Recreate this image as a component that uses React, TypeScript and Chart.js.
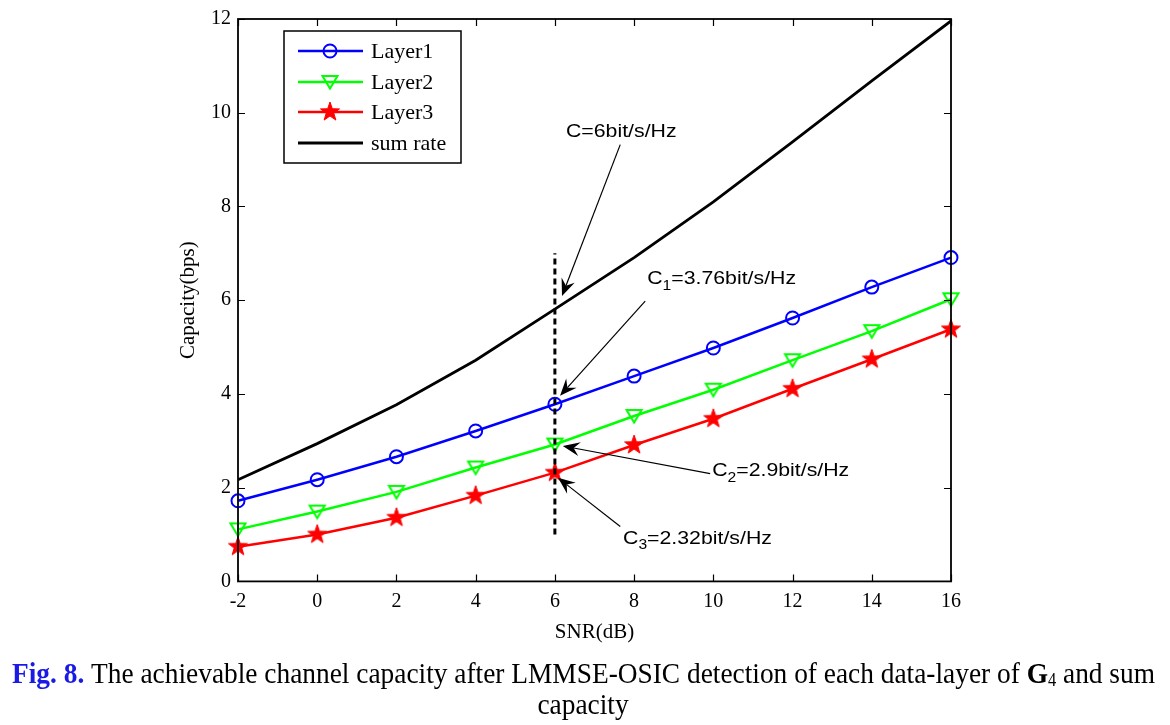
import React, { useEffect, useRef } from "react";
import { Chart, registerables } from "chart.js";

Chart.register(...registerables);

// ---------- data ----------
const snrDb = [-2, 0, 2, 4, 6, 8, 10, 12, 14, 16];
const layer1 = [1.72, 2.17, 2.66, 3.21, 3.78, 4.38, 4.98, 5.62, 6.28, 6.91];
const layer2 = [1.11, 1.49, 1.91, 2.43, 2.92, 3.53, 4.09, 4.72, 5.34, 6.02];
const layer3 = [0.74, 1.0, 1.36, 1.83, 2.32, 2.91, 3.47, 4.11, 4.74, 5.38];
const sumRate = [2.17, 2.94, 3.77, 4.72, 5.81, 6.91, 8.1, 9.38, 10.68, 11.96];
const guideX = [6, 6];
const guideY = [1, 7];
const legendLabels = ["Layer1", "Layer2", "Layer3", "sum rate"];
const xTickValues = [-2, 0, 2, 4, 6, 8, 10, 12, 14, 16];
const yTickValues = [0, 2, 4, 6, 8, 10, 12];

// annotations (text + arrow, in data coordinates)
const annoMain = ["C", "C", "C", "C"];
const annoSub = ["", "1", "2", "3"];
const annoRest = ["=6bit/s/Hz", "=3.76bit/s/Hz", "=2.9bit/s/Hz", "=2.32bit/s/Hz"];
const annoTextX = [6.28, 8.33, 9.97, 7.72];
const annoTextY = [9.6, 6.45, 2.36, 0.915];
const arrowFromX = [7.65, 8.28, 9.92, 7.65];
const arrowFromY = [9.32, 5.98, 2.3, 1.17];
const arrowToX = [6.18, 6.13, 6.2, 6.08];
const arrowToY = [6.09, 3.96, 2.89, 2.21];

const captionBold = "Fig. 8.";
const captionMain = " The achievable channel capacity after LMMSE-OSIC detection of each data-layer of ";
const captionG = "G";
const captionSub = "4";
const captionEnd = " and sum";
const captionLine2 = "capacity";

const SERIF = "'Liberation Serif', 'Times New Roman', serif";
const SANS = "'Liberation Sans', Arial, sans-serif";
const BLUE = "#0000ff";
const GREEN = "#00ff00";
const RED = "#ff0000";

function makeStar(color: string, outer: number, inner: number) {
  const s = Math.ceil(outer * 2 + 4);
  const c = document.createElement("canvas");
  c.width = s;
  c.height = s;
  const g = c.getContext("2d")!;
  g.translate(s / 2, s / 2);
  g.beginPath();
  for (let i = 0; i < 10; i++) {
    const r = i % 2 === 0 ? outer : inner;
    const a = -Math.PI / 2 + (i * Math.PI) / 5;
    g.lineTo(r * Math.cos(a), r * Math.sin(a));
  }
  g.closePath();
  g.fillStyle = color;
  g.fill();
  g.strokeStyle = color;
  g.lineWidth = 1;
  g.stroke();
  return c;
}

function makeTriDown(color: string) {
  const s = 20;
  const c = document.createElement("canvas");
  c.width = s;
  c.height = s;
  const g = c.getContext("2d")!;
  g.beginPath();
  g.moveTo(2.5, 4);
  g.lineTo(17.5, 4);
  g.lineTo(10, 16.5);
  g.closePath();
  g.strokeStyle = color;
  g.lineWidth = 2;
  g.lineJoin = "miter";
  g.stroke();
  return c;
}

function pts(xs: number[], ys: number[]) {
  return xs.map((x, i) => ({ x, y: ys[i] }));
}

export default function App() {
  const ref = useRef<HTMLCanvasElement | null>(null);

  useEffect(() => {
    const canvas = ref.current;
    if (!canvas) return;
    const star = makeStar(RED, 10, 4);
    const tri = makeTriDown(GREEN);

    const overlay = {
      id: "overlay",
      afterDatasetsDraw(chart: any) {
        const ctx = chart.ctx as CanvasRenderingContext2D;
        const { left, right, top, bottom } = chart.chartArea;
        const xs = chart.scales.x;
        const ys = chart.scales.y;
        ctx.save();
        // box
        ctx.strokeStyle = "#000";
        ctx.lineWidth = 1.8;
        ctx.strokeRect(left, top, right - left, bottom - top);
        // inward ticks
        ctx.lineWidth = 1.2;
        const tl = 7;
        ctx.beginPath();
        xTickValues.forEach((v) => {
          const px = Math.round(xs.getPixelForValue(v)) + 0.5;
          ctx.moveTo(px, bottom);
          ctx.lineTo(px, bottom - tl);
          ctx.moveTo(px, top);
          ctx.lineTo(px, top + tl);
        });
        yTickValues.forEach((v) => {
          const py = Math.round(ys.getPixelForValue(v)) + 0.5;
          ctx.moveTo(left, py);
          ctx.lineTo(left + tl, py);
          ctx.moveTo(right, py);
          ctx.lineTo(right - tl, py);
        });
        ctx.stroke();

        // annotations
        for (let i = 0; i < annoMain.length; i++) {
          const x0 = xs.getPixelForValue(arrowFromX[i]);
          const y0 = ys.getPixelForValue(arrowFromY[i]);
          const x1 = xs.getPixelForValue(arrowToX[i]);
          const y1 = ys.getPixelForValue(arrowToY[i]);
          const ang = Math.atan2(y1 - y0, x1 - x0);
          const L = 17;
          const W = 7;
          const back = 11;
          ctx.strokeStyle = "#000";
          ctx.lineWidth = 1.2;
          ctx.beginPath();
          ctx.moveTo(x0, y0);
          ctx.lineTo(x1 - Math.cos(ang) * back, y1 - Math.sin(ang) * back);
          ctx.stroke();
          const bx = x1 - Math.cos(ang) * L;
          const by = y1 - Math.sin(ang) * L;
          const nx = -Math.sin(ang);
          const ny = Math.cos(ang);
          ctx.fillStyle = "#000";
          ctx.beginPath();
          ctx.moveTo(x1, y1);
          ctx.lineTo(bx + nx * W, by + ny * W);
          ctx.lineTo(x1 - Math.cos(ang) * back, y1 - Math.sin(ang) * back);
          ctx.lineTo(bx - nx * W, by - ny * W);
          ctx.closePath();
          ctx.fill();

          // text (slightly wide, like the reference)
          const tx = xs.getPixelForValue(annoTextX[i]);
          const ty = ys.getPixelForValue(annoTextY[i]);
          ctx.save();
          ctx.translate(tx, ty);
          ctx.scale(1.12, 1);
          ctx.textBaseline = "middle";
          ctx.textAlign = "left";
          ctx.fillStyle = "#000";
          ctx.font = `19px ${SANS}`;
          let cx = 0;
          ctx.fillText(annoMain[i], cx, 0);
          cx += ctx.measureText(annoMain[i]).width;
          if (annoSub[i]) {
            ctx.font = `14px ${SANS}`;
            ctx.fillText(annoSub[i], cx, 7);
            cx += ctx.measureText(annoSub[i]).width;
            ctx.font = `19px ${SANS}`;
          }
          ctx.fillText(annoRest[i], cx, 0);
          ctx.restore();
        }

        // legend
        const lx0 = 284, ly0 = 31, lx1 = 461, ly1 = 163;
        ctx.fillStyle = "#fff";
        ctx.fillRect(lx0, ly0, lx1 - lx0, ly1 - ly0);
        ctx.strokeStyle = "#000";
        ctx.lineWidth = 1.5;
        ctx.strokeRect(lx0, ly0, lx1 - lx0, ly1 - ly0);
        const rowsY = [51, 82, 112, 143];
        const cols = [BLUE, GREEN, RED, "#000"];
        for (let i = 0; i < legendLabels.length; i++) {
          const yy = rowsY[i];
          ctx.strokeStyle = cols[i];
          ctx.lineWidth = i === 3 ? 3 : 2.5;
          ctx.beginPath();
          ctx.moveTo(298, yy);
          ctx.lineTo(363, yy);
          ctx.stroke();
          if (i === 0) {
            ctx.lineWidth = 2;
            ctx.beginPath();
            ctx.arc(330, yy, 6.5, 0, Math.PI * 2);
            ctx.stroke();
          } else if (i === 1) {
            ctx.drawImage(tri, 330 - tri.width / 2, yy - tri.height / 2);
          } else if (i === 2) {
            ctx.drawImage(star, 330 - star.width / 2, yy - star.height / 2);
          }
          ctx.fillStyle = "#000";
          ctx.font = `22px ${SERIF}`;
          ctx.textBaseline = "middle";
          ctx.textAlign = "left";
          ctx.fillText(legendLabels[i], 371, yy + 1);
        }
        ctx.restore();
      },
      afterDraw(chart: any) {
        const ctx = chart.ctx as CanvasRenderingContext2D;
        ctx.save();
        const fBold = `bold 30px ${SERIF}`;
        const fNorm = `30px ${SERIF}`;
        const fSub = `18px ${SERIF}`;
        const parts: [string, string, string, number][] = [
          [captionBold, fBold, "#1a1ae6", 0],
          [captionMain, fNorm, "#000", 0],
          [captionG, fBold, "#000", 0],
          [captionSub, fSub, "#000", 3],
          [captionEnd, fNorm, "#000", 0],
        ];
        let total = 0;
        const widths = parts.map((p) => {
          ctx.font = p[1];
          const w = ctx.measureText(p[0]).width;
          total += w;
          return w;
        });
        const x0 = 12, x1 = 1155;
        const sx = (x1 - x0) / total;
        ctx.textBaseline = "alphabetic";
        ctx.textAlign = "left";
        ctx.translate(x0, 683);
        ctx.scale(sx, 1);
        let cx = 0;
        parts.forEach((p, i) => {
          ctx.font = p[1];
          ctx.fillStyle = p[2];
          ctx.fillText(p[0], cx, p[3]);
          cx += widths[i];
        });
        ctx.restore();
        ctx.save();
        ctx.font = fNorm;
        ctx.fillStyle = "#000";
        ctx.textBaseline = "alphabetic";
        ctx.textAlign = "center";
        ctx.translate(583, 714);
        ctx.scale(sx, 1);
        ctx.fillText(captionLine2, 0, 0);
        ctx.restore();
      },
    };

    const chart = new Chart(canvas, {
      type: "line",
      data: {
        datasets: [
          {
            label: "guide",
            data: pts(guideX, guideY),
            borderColor: "#000",
            borderWidth: 3,
            borderDash: [6, 4],
            pointRadius: 0,
            order: -1,
          } as any,
          {
            label: legendLabels[0],
            data: pts(snrDb, layer1),
            borderColor: BLUE,
            borderWidth: 2.5,
            pointStyle: "circle",
            pointRadius: 6.5,
            pointBorderWidth: 2,
            pointBorderColor: BLUE,
            pointBackgroundColor: "rgba(0,0,0,0)",
            clip: false,
          },
          {
            label: legendLabels[1],
            data: pts(snrDb, layer2),
            borderColor: GREEN,
            borderWidth: 2.5,
            pointStyle: tri,
            pointRadius: 8,
            clip: false,
          },
          {
            label: legendLabels[2],
            data: pts(snrDb, layer3),
            borderColor: RED,
            borderWidth: 2.5,
            pointStyle: star,
            pointRadius: 10,
            clip: false,
          },
          {
            label: legendLabels[3],
            data: pts(snrDb, sumRate),
            borderColor: "#000",
            borderWidth: 2.8,
            pointRadius: 0,
          },
        ],
      },
      options: {
        responsive: false,
        animation: false,
        events: [],
        layout: { padding: { left: 172, right: 219, top: 17, bottom: 76 } },
        plugins: { legend: { display: false }, tooltip: { enabled: false } },
        scales: {
          x: {
            type: "linear",
            min: -2,
            max: 16,
            grid: { display: false, drawTicks: false },
            border: { display: false },
            ticks: {
              stepSize: 2,
              color: "#000",
              padding: 8,
              maxRotation: 0,
              font: { family: SERIF, size: 20 },
            },
            title: {
              display: true,
              text: "SNR(dB)",
              color: "#000",
              font: { family: SERIF, size: 21 },
            },
            afterFit(s: any) {
              s.height = 67.6;
            },
          },
          y: {
            type: "linear",
            min: 0,
            max: 12,
            grid: { display: false, drawTicks: false },
            border: { display: false },
            ticks: {
              stepSize: 2,
              color: "#000",
              padding: 7,
              font: { family: SERIF, size: 20 },
            },
            title: {
              display: true,
              text: "Capacity(bps)",
              color: "#000",
              font: { family: SERIF, size: 21 },
            },
            afterFit(s: any) {
              s.width = 66;
            },
          },
        },
      },
      plugins: [overlay],
    } as any);
    return () => chart.destroy();
  }, []);

  return (
    <div style={{ position: "fixed", left: 0, top: 0, width: 1170, height: 725, background: "#fff" }}>
      <canvas ref={ref} width={1170} height={725} style={{ width: 1170, height: 725, display: "block" }} />
    </div>
  );
}
